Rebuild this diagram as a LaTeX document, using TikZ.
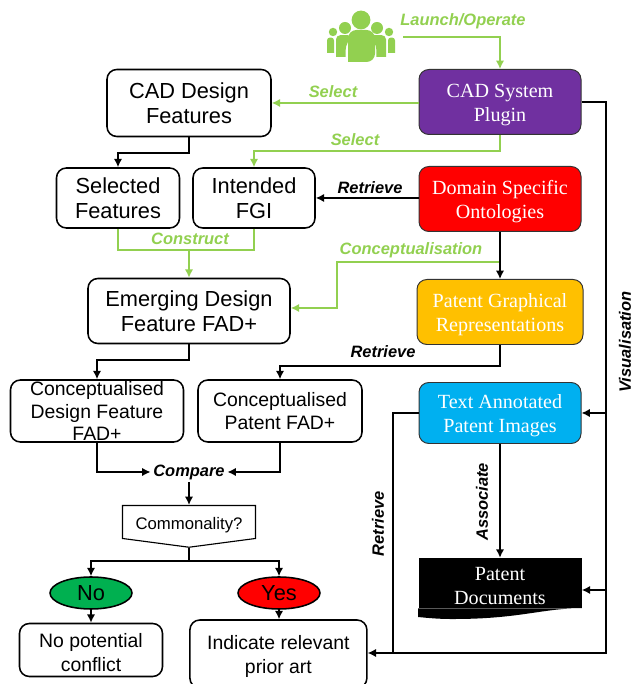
\documentclass[tikz,border=0pt]{standalone}
\usepackage{fontspec}
\setmainfont{Liberation Serif}
\setsansfont{Liberation Sans}
\usetikzlibrary{
    arrows.meta,
    shapes.geometric,
    shapes.symbols
}
\definecolor{leafGreen}{RGB}{146, 208, 80}
\definecolor{pluginPurple}{RGB}{112, 48, 160}
\definecolor{ontoRed}{RGB}{255, 0, 0}
\definecolor{graphAmber}{RGB}{255, 192, 0}
\definecolor{annotBlue}{RGB}{0, 176, 240}
\definecolor{noGreen}{RGB}{0, 176, 80}
\def\picW{15.825}
\def\picH{17.1}
\def\topStrut{\rule{0pt}{13.5pt}}
\tikzset{
    stage/.style={
        rectangle,
        rounded corners=7pt,
        draw=black,
        line width=1.1pt,
        fill=white,
        align=center,
        font=\sffamily\fontsize{15.5}{18}\selectfont
    },
    conceptBox/.style={
        stage,
        font=\sffamily\fontsize{13.8}{17}\selectfont
    },
    source/.style={
        rectangle,
        rounded corners=7pt,
        draw=black!80,
        line width=0.7pt,
        text=white,
        align=center,
        minimum width=4.05cm,
        minimum height=1.625cm,
        font=\fontsize{14.3}{17.5}\selectfont
    },
    answer/.style={
        ellipse,
        draw=black,
        line width=1.1pt,
        minimum width=2.05cm,
        minimum height=0.8cm,
        inner sep=0pt,
        font=\sffamily\fontsize{15.5}{18}\selectfont
    },
    verb/.style={
        font=\sffamily\bfseries\itshape\fontsize{11.7}{14}\selectfont,
        inner sep=0pt
    },
    greenVerb/.style={
        verb,
        text=leafGreen
    },
    flow/.style={
        line width=1.1pt,
        draw=black,
        -{Latex[length=6pt,width=6pt]}
    },
    flowLine/.style={
        line width=1.1pt,
        draw=black
    },
    greenFlow/.style={
        line width=1.1pt,
        draw=leafGreen,
        -{Latex[length=6pt,width=6pt]}
    },
    greenLine/.style={
        line width=1.1pt,
        draw=leafGreen
    }
}
\begin{document}
\begin{tikzpicture}
    \useasboundingbox (0,0) rectangle (\picW, \picH);

    % People
    \begin{scope}[fill=leafGreen]
        \fill (9.025,16.6) circle (0.235);
        \fill (8.625,16.4) circle (0.15);
        \fill (9.425,16.4) circle (0.15);
        \fill (8.325,16.3) circle (0.105);
        \fill (9.725,16.3) circle (0.105);
        \fill[rounded corners=6pt] (8.7,15.55) -- (8.7,16.35) -- (9.375,16.35) -- (9.375,15.55) [sharp corners] -- cycle;
        \fill[rounded corners=3pt] (8.4,15.68) -- (8.4,16.22) -- (8.8,16.22) -- (8.64,15.95) [sharp corners] -- (8.64,15.68) -- cycle;
        \fill[rounded corners=3pt] (9.65,15.68) -- (9.65,16.22) -- (9.25,16.22) -- (9.41,15.95) [sharp corners] -- (9.41,15.68) -- cycle;
        \fill[rounded corners=2pt] (8.175,15.78) -- (8.175,16.16) -- (8.35,16.16) [sharp corners] -- (8.35,15.78) -- cycle;
        \fill[rounded corners=2pt] (9.875,15.78) -- (9.875,16.16) -- (9.7,16.16) [sharp corners] -- (9.7,15.78) -- cycle;
    \end{scope}
    \coordinate (people) at (10.075,16.175);

    % Sources
    \node[source, fill=pluginPurple] (plugin) at (12.5, 14.55) {\topStrut CAD System\\Plugin};
    \node[source, fill=ontoRed] (onto) at (12.5, 12.125) {\topStrut Domain Specific\\Ontologies};
    \node[source, fill=graphAmber, minimum width=4.15cm] (graphical) at (12.5, 9.3) {\topStrut Patent Graphical\\Representations};
    \node[source, fill=annotBlue, minimum height=1.525cm] (annotated) at (12.5, 6.775) {\topStrut Text Annotated\\Patent Images};
    \node[rectangle, fill=black, text=white, align=center, inner ysep=0pt, minimum width=4.075cm, minimum height=1.25cm, font=\fontsize{14.3}{17.5}\selectfont] (documents) at (12.5, 2.525) {\topStrut Patent\\Documents};
    \fill[black] (documents.south east) .. controls (13.6,1.9) and (13.0,1.63) .. (11.4,1.625) .. controls (11.0,1.62) and (10.7,1.65) .. (documents.south west |- 0,1.675) -- (documents.south west) -- cycle;

    % Design side
    \node[stage, minimum width=4.1cm, minimum height=1.675cm] (design) at (4.725, 14.525) {CAD Design\\Features};
    \node[stage, minimum width=3.075cm, minimum height=1.5cm] (selected) at (2.95, 12.15) {Selected\\Features};
    \node[stage, minimum width=3.05cm, minimum height=1.5cm] (fgi) at (6.35, 12.15) {Intended\\FGI};
    \node[stage, minimum width=5.05cm, minimum height=1.625cm] (emerging) at (4.725, 9.325) {Emerging Design\\Feature FAD+};
    \node[conceptBox, minimum width=4.325cm, minimum height=1.55cm, inner sep=0pt, font=\sffamily\fontsize{13.8}{15.8}\selectfont] (conceptDesign) at (2.425, 6.825) {Conceptualised\\Design Feature\\FAD+};
    \node[conceptBox, minimum width=4.1cm, minimum height=1.55cm, font=\sffamily\fontsize{13.8}{15.8}\selectfont] (conceptPatent) at (7, 6.825) {Conceptualised\\Patent FAD+};

    % Decision
    \node[verb, text=black, outer sep=2pt] (compare) at (4.725, 5.3) {Compare};
    \node[signal, signal to=south, signal pointer angle=165, draw=black, line width=0.8pt, minimum width=3.325cm, minimum height=1cm, font=\sffamily\fontsize{11.9}{14}\selectfont, inner sep=0pt] (common) at (4.725, 4.05) {\topStrut Commonality?};
    \node[answer, fill=noGreen] (no) at (2.275, 2.275) {No};
    \node[answer, fill=ontoRed] (yes) at (6.975, 2.275) {Yes};
    \node[conceptBox, minimum width=3.575cm, minimum height=1.325cm] (conflict) at (2.275, 0.85) {\topStrut No potential\\conflict};
    \node[conceptBox, minimum width=4.425cm, minimum height=1.7cm] (prior) at (6.96, 0.75) {\topStrut Indicate relevant\\prior art};

    % Green edges
    \draw[greenFlow] (people) -| (plugin.north);
    \draw[greenFlow] (plugin.west |- design.east) -- (design.east);
    \draw[greenFlow] (plugin.south) |- ++(-3,-0.4) -| (fgi.north);
    \draw[greenLine] (selected.south) |- (fgi.south |- 0,10.85) -- (fgi.south);
    \draw[greenFlow] (emerging.north |- 0,10.85) -- (emerging.north);
    \coordinate (conceptStart) at (12.5, 10.55);
    \draw[greenFlow] (conceptStart) -| (8.425, 9.4) -- (emerging.east |- 0,9.4);

    % Black edges
    \draw[flow] (design.south) |- ++(-1,-0.4) -| (selected.north);
    \draw[flow] (onto.west |- fgi.east) -- (fgi.east);
    \draw[flow] (onto.south) -- (graphical.north);
    \draw[flow] (graphical.south) |- (7, 7.95) -- (conceptPatent.north);
    \draw[flow] (emerging.south) |- (2.425, 8.1) -- (conceptDesign.north);
    \draw[flow] (conceptDesign.south) |- (compare.west);
    \draw[flow] (conceptPatent.south) |- (compare.east);
    \draw[flow] (compare.south) -- (common.north);
    \draw[flowLine] (common.south) -- (4.725, 3.075);
    \draw[flow] (4.725, 3.075) -| (no.north);
    \draw[flow] (4.725, 3.075) -| (yes.north);
    \draw[flow] (no.south) -- (conflict.north);
    \draw[flow] (yes.south) -- (yes.south |- prior.north);
    \draw[flow] (annotated.south) -- (documents.north);

    % Long return lines
    \draw[flow] (plugin.east) -| (15.15, 0.775) -- (prior.east |- 0,0.775);
    \draw[flow] (15.15, 6.775) -- (annotated.east);
    \draw[flow] (15.15, 2.35) -- (documents.east |- 0,2.35);
    \draw[flowLine] (annotated.west) -| (9.825, 0.775);

    % Labels
    \node[greenVerb] (launch) at (11.575, 16.575) {Launch/Operate};
    \node[greenVerb] (selectA) at (8.325, 14.8) {Select};
    \node[greenVerb] (selectB) at (8.875, 13.62) {Select};
    \node[greenVerb] (construct) at (4.75, 11.12) {Construct};
    \node[greenVerb] (conceptualisation) at (10.275, 10.85) {Conceptualisation};
    \node[verb] (retrieveA) at (9.25, 12.4) {Retrieve};
    \node[verb] (retrieveB) at (9.575, 8.3) {Retrieve};
    \node[verb, rotate=90] (retrieveC) at (9.45, 4.0) {Retrieve};
    \node[verb, rotate=90] (associate) at (12.05, 4.55) {Associate};
    \node[verb, rotate=90] (visual) at (15.625, 8.55) {Visualisation};
\end{tikzpicture}
\end{document}
